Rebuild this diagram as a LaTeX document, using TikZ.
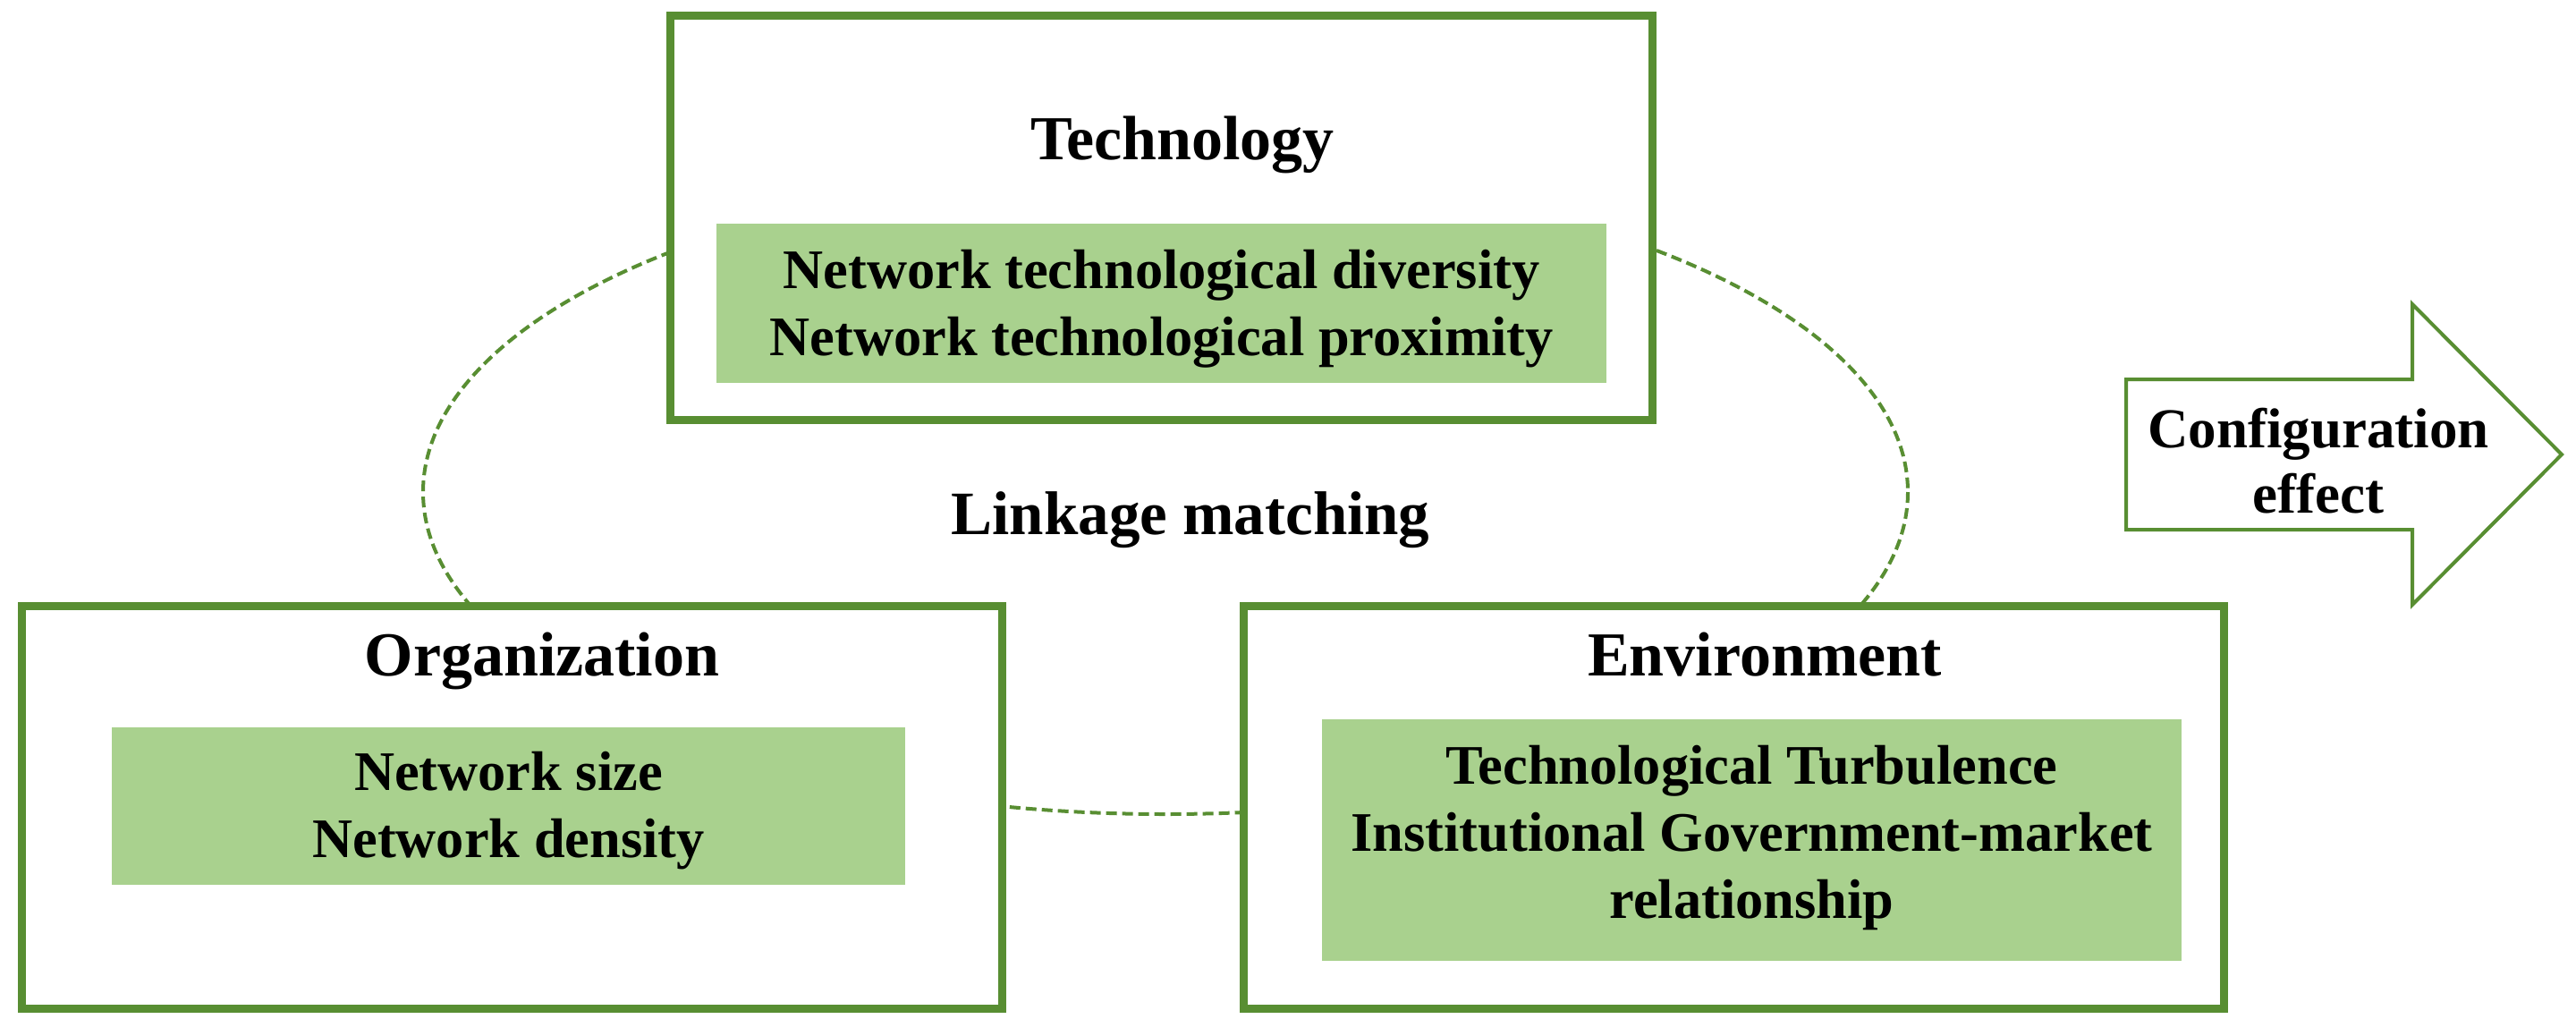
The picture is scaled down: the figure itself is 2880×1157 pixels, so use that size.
\documentclass[tikz,border=0pt]{standalone}
\usepackage{fontspec}
\setmainfont{Liberation Serif}
\definecolor{frameg}{HTML}{588E32}
\definecolor{fillg}{HTML}{A9D18E}
\newcommand{\stackl}[1]{\begin{tabular}[t]{@{}c@{}}#1\end{tabular}}
\begin{document}
\begin{tikzpicture}[x=0.25pt,y=-0.25pt,
  frame/.style={draw=frameg,line width=2.25pt,fill=white,inner sep=0pt,rectangle},
  greenbox/.style={fill=fillg,inner sep=0pt,rectangle},
  head/.style={font=\bfseries\fontsize{17.5}{21}\selectfont,inner sep=0pt,anchor=base},
  body/.style={font=\bfseries\fontsize{15.6}{18.75}\selectfont,inner sep=0pt,anchor=base},
  ring/.style={draw=frameg,line width=1pt,dash pattern=on 3pt off 1.5pt},
  bigarrow/.style={draw=frameg,line width=1pt,fill=white,line join=miter}]
\fill[white] (0,0) rectangle (2880,1157);
\useasboundingbox (0,0) rectangle (2880,1157);
% linkage ring behind the boxes
\draw[ring] (1303,550) ellipse [x radius=830, y radius=360];
% outer boxes
\node[frame,minimum width=274.5pt,minimum height=113pt] (tech) at (1298.5,243.5) {};
\node[frame,minimum width=274pt,minimum height=112.5pt] (org) at (572.5,902.5) {};
\node[frame,minimum width=274pt,minimum height=112.5pt] (env) at (1938.5,902.5) {};
% green inner boxes
\node[greenbox,minimum width=248.75pt,minimum height=44.5pt] (techg) at (1298.5,339) {};
\node[greenbox,minimum width=221.75pt,minimum height=44pt] (orgg) at (568.5,901) {};
\node[greenbox,minimum width=240.25pt,minimum height=67.5pt] (envg) at (1958.5,939) {};
% texts
\node[head] (techt) at (1322,178) {Technology};
\node[body] (techl) at (1298.5,322) {\stackl{Network technological diversity\\Network technological proximity}};
\node[head] (orgt) at (606,755) {Organization};
\node[body] (orgl) at (568.5,883) {\stackl{Network size\\Network density}};
\node[head] (envt) at (1973,755) {Environment};
\node[body] (envl) at (1958.5,876) {\stackl{Technological Turbulence\\Institutional Government-market\\relationship}};
\node[font=\bfseries\fontsize{17.25}{20}\selectfont,inner sep=0pt,anchor=base] (link) at (1331,597) {Linkage matching};
% configuration arrow
\draw[bigarrow] (2377,424) -- (2697,424) -- (2697,340) -- (2864,508) -- (2697,676) -- (2697,592) -- (2377,592) -- cycle;
\node[font=\bfseries\fontsize{15.75}{18.25}\selectfont,inner sep=0pt,anchor=base] (cfg) at (2592,500) {\stackl{Configuration\\effect}};
\end{tikzpicture}
\end{document}
